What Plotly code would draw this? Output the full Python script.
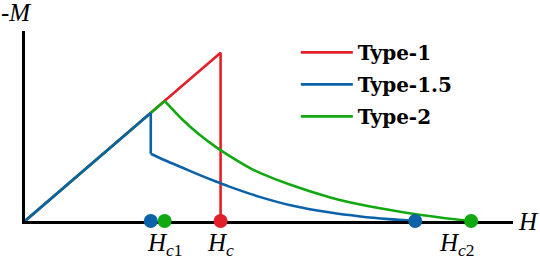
import plotly.graph_objects as go

# ---- data ----
type1_H = [0.0, 1.0, 1.0]
type1_M = [0.0, 1.0, 0.0]

type15_lin_H = [0.0, 0.643, 0.643]
type15_lin_M = [0.0, 0.643, 0.400]
type15_curve_H = [0.643, 0.718, 0.803, 0.888, 0.973, 1.041, 1.204, 1.357, 1.561, 1.714, 1.860, 1.995]
type15_curve_M = [0.400, 0.360, 0.318, 0.276, 0.236, 0.206, 0.142, 0.094, 0.050, 0.027, 0.011, 0.0]

type2_lin_H = [0.0, 0.714]
type2_lin_M = [0.0, 0.714]
type2_curve_H = [0.714, 0.803, 0.888, 0.973, 1.041, 1.153, 1.204, 1.357, 1.561, 1.714, 1.918, 2.122, 2.281]
type2_curve_M = [0.714, 0.605, 0.517, 0.442, 0.390, 0.313, 0.285, 0.215, 0.140, 0.098, 0.055, 0.021, 0.0]

dot_H = [0.643, 0.714, 1.0, 1.995, 2.281]
dot_M = [0.0, 0.0, 0.0, 0.0, 0.0]
dot_series = ["Type-1.5", "Type-2", "Type-1", "Type-1.5", "Type-2"]

field_labels = ["<i>H</i><sub><i>c</i>1</sub>", "<i>H</i><sub><i>c</i></sub>", "<i>H</i><sub><i>c</i>2</sub>"]
field_label_H = [0.714, 1.0, 2.21]

colors = {"Type-1": "#E3202A", "Type-1.5": "#0B62A8", "Type-2": "#12A812"}
LW = 2.6

fig = go.Figure()

fig.add_trace(go.Scatter(x=type1_H, y=type1_M, mode="lines", name="Type-1",
                         line=dict(color=colors["Type-1"], width=LW),
                         legendgroup="t1", legendrank=1))
fig.add_trace(go.Scatter(x=type2_lin_H, y=type2_lin_M, mode="lines", name="Type-2",
                         line=dict(color=colors["Type-2"], width=LW),
                         legendgroup="t2", legendrank=3))
fig.add_trace(go.Scatter(x=type2_curve_H, y=type2_curve_M, mode="lines", showlegend=False,
                         line=dict(color=colors["Type-2"], width=LW, shape="spline", smoothing=0.8),
                         legendgroup="t2"))
fig.add_trace(go.Scatter(x=type15_lin_H, y=type15_lin_M, mode="lines", name="Type-1.5",
                         line=dict(color=colors["Type-1.5"], width=LW),
                         legendgroup="t15", legendrank=2))
fig.add_trace(go.Scatter(x=type15_curve_H, y=type15_curve_M, mode="lines", showlegend=False,
                         line=dict(color=colors["Type-1.5"], width=LW, shape="spline", smoothing=0.8),
                         legendgroup="t15"))
fig.add_trace(go.Scatter(x=dot_H, y=dot_M, mode="markers", showlegend=False,
                         marker=dict(size=14, color=[colors[s] for s in dot_series], line=dict(width=0)),
                         cliponaxis=False, hoverinfo="skip"))

math_font = dict(family="Liberation Serif", size=25, color="black")

for lab, h in zip(field_labels, field_label_H):
    fig.add_annotation(x=h, y=0, xref="x", yref="y", text=lab, showarrow=False,
                       yshift=-23, font=math_font, xanchor="center", yanchor="middle")

fig.add_annotation(x=0, y=1, xref="paper", yref="paper", text="-<i>M</i>", showarrow=False,
                   xshift=-9, yshift=19, font=math_font, xanchor="center", yanchor="middle")
fig.add_annotation(x=1, y=0, xref="paper", yref="paper", text="<i>H</i>", showarrow=False,
                   xshift=15, yshift=0, font=math_font, xanchor="center", yanchor="middle")

fig.update_layout(
    width=540, height=260,
    margin=dict(l=25, r=27, t=31, b=39, pad=0),
    paper_bgcolor="white", plot_bgcolor="white",
    showlegend=True,
    legend=dict(x=0.555, y=0.99, xanchor="left", yanchor="top",
                bgcolor="rgba(0,0,0,0)", borderwidth=0,
                font=dict(family="DejaVu Serif", size=20, color="black", weight="bold"),
                tracegroupgap=3, itemwidth=52),
    xaxis=dict(range=[0, 2.495], showgrid=False, zeroline=False, showticklabels=False,
               ticks="", showline=True, linecolor="black", linewidth=2.5, layer="below traces",
               fixedrange=True),
    yaxis=dict(range=[0, 1.13], showgrid=False, zeroline=False, showticklabels=False,
               ticks="", showline=True, linecolor="black", linewidth=2.5, layer="below traces",
               fixedrange=True),
)

fig.write_html("out.html", config={"displayModeBar": False},
               post_script="document.body.style.margin='0';document.body.style.padding='0';")
